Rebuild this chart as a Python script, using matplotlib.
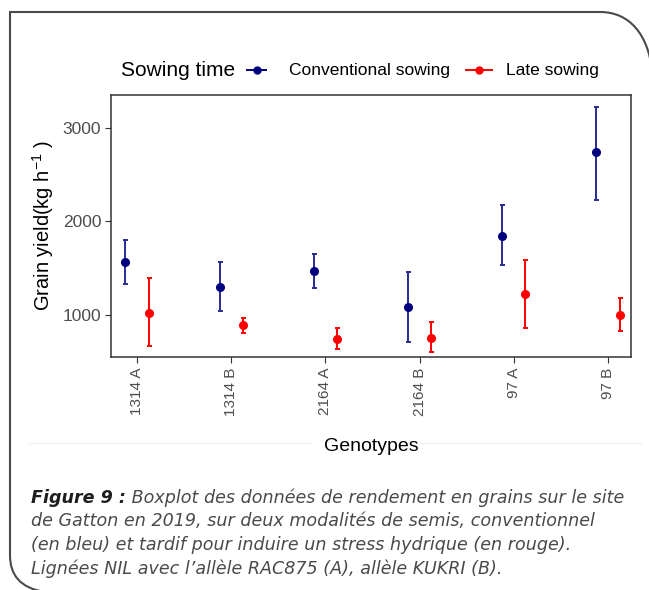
import matplotlib
matplotlib.use("Agg")
import matplotlib.pyplot as plt
from matplotlib.path import Path
from matplotlib.patches import PathPatch
from matplotlib.lines import Line2D
import numpy as np

genotypes = ['1314 A', '1314 B', '2164 A', '2164 B', '97 A', '97 B']
conv_mean = [1570, 1303, 1471, 1089, 1845, 2740]
conv_low = [1332, 1046, 1285, 708, 1531, 2230]
conv_high = [1802, 1563, 1652, 1457, 2180, 3228]
late_mean = [1025, 893, 743, 757, 1225, 1000]
late_low = [668, 804, 636, 601, 864, 832]
late_high = [1396, 968, 864, 922, 1588, 1185]

W, H = 649, 590
fig = plt.figure(figsize=(W / 100, H / 100), dpi=100)
fig.patch.set_facecolor('white')

def fx(px):
    return px / W

def fy(py):
    return 1 - py / H

plt.rcParams['font.family'] = ['Liberation Sans', 'DejaVu Sans']

# panel
ax = fig.add_axes([fx(111), fy(357), fx(631) - fx(111), fy(95) - fy(357)])
x = np.arange(1, len(genotypes) + 1)
dodge = 0.125
blue = '#00007f'
blue_bar = '#2a2a96'
red = '#ff0000'

ax.errorbar(x - dodge, conv_mean,
            yerr=[np.array(conv_mean) - np.array(conv_low), np.array(conv_high) - np.array(conv_mean)],
            fmt='o', color=blue, ecolor=blue_bar, ms=5.5, elinewidth=1.4, capsize=1.8, capthick=1.4)
ax.errorbar(x + dodge, late_mean,
            yerr=[np.array(late_mean) - np.array(late_low), np.array(late_high) - np.array(late_mean)],
            fmt='o', color=red, ecolor=red, ms=5.5, elinewidth=1.4, capsize=1.8, capthick=1.4)

ax.set_xlim(0.722, 6.247)
ax.set_ylim(550, 3353)
ax.set_xticks(x)
ax.set_xticklabels(genotypes, rotation=90, fontsize=11, color='#4d4d4d')
ax.set_yticks([1000, 2000, 3000])
ax.tick_params(axis='y', labelsize=12.5, labelcolor='#4d4d4d', color='#333333', length=4, pad=3)
ax.tick_params(axis='x', color='#333333', length=4)
for s in ax.spines.values():
    s.set_color('#333333')
    s.set_linewidth(1.1)

ax.set_ylabel(r'Grain yield(kg h$^{\mathregular{-1}}$ )', fontsize=14.5, labelpad=5)
ax.set_xlabel('Genotypes', fontsize=14, labelpad=16)

# legend
fig.text(fx(121), fy(70), 'Sowing time', fontsize=15, va='center', ha='left')
for x0, x1, tx, col, lab in [(247, 266, 289, blue, 'Conventional sowing'),
                             (466, 492, 506, red, 'Late sowing')]:
    fig.add_artist(Line2D([fx(x0), fx(x1)], [fy(70), fy(70)], color=col, lw=1.4))
    fig.add_artist(Line2D([fx((x0 + x1) / 2)], [fy(70)], color=col, marker='o', ms=5))
    fig.text(fx(tx), fy(70), lab, fontsize=12.5, va='center', ha='left')

# faint separator (edge of the pasted chart image)
for a, b in [(29, 310), (420, 641)]:
    fig.add_artist(Line2D([fx(a), fx(b)], [fy(443), fy(443)], color='#f0f0f0', lw=1))

# outer frame with rounded corners
verts = [(45, 592), (20, 588), (10, 575), (10, 555),
         (10, 12),
         (600, 12),
         (630, 12), (648, 35), (652, 70)]
codes = [Path.MOVETO, Path.CURVE4, Path.CURVE4, Path.CURVE4,
         Path.LINETO, Path.LINETO,
         Path.CURVE4, Path.CURVE4, Path.CURVE4]
path = Path([(fx(a), fy(b)) for a, b in verts], codes)
fig.add_artist(PathPatch(path, fill=False, edgecolor='#4a4a4a', lw=1.5, transform=fig.transFigure))

# caption
cap_font = ['DejaVu Sans']
cap_size = 12.6
t1 = fig.text(fx(31), fy(503), 'Figure 9 :', fontsize=cap_size, style='italic', weight='bold',
              family=cap_font, color='#1e1e1e', va='baseline')
ax.annotate(' Boxplot des données de rendement en grains sur le site', xy=(1, 0), xycoords=t1,
            fontsize=cap_size, style='italic', family=cap_font, color='#4a4a4a', va='bottom',
            annotation_clip=False)
cap_lines = ['de Gatton en 2019, sur deux modalités de semis, conventionnel',
             '(en bleu) et tardif pour induire un stress hydrique (en rouge).',
             'Lignées NIL avec l\u2019allèle RAC875 (A), allèle KUKRI (B).']
for i, line in enumerate(cap_lines):
    fig.text(fx(31), fy(526.5 + i * 23.7), line, fontsize=cap_size, style='italic',
             family=cap_font, color='#4a4a4a', va='baseline')

fig.savefig('out.png', dpi=100)
